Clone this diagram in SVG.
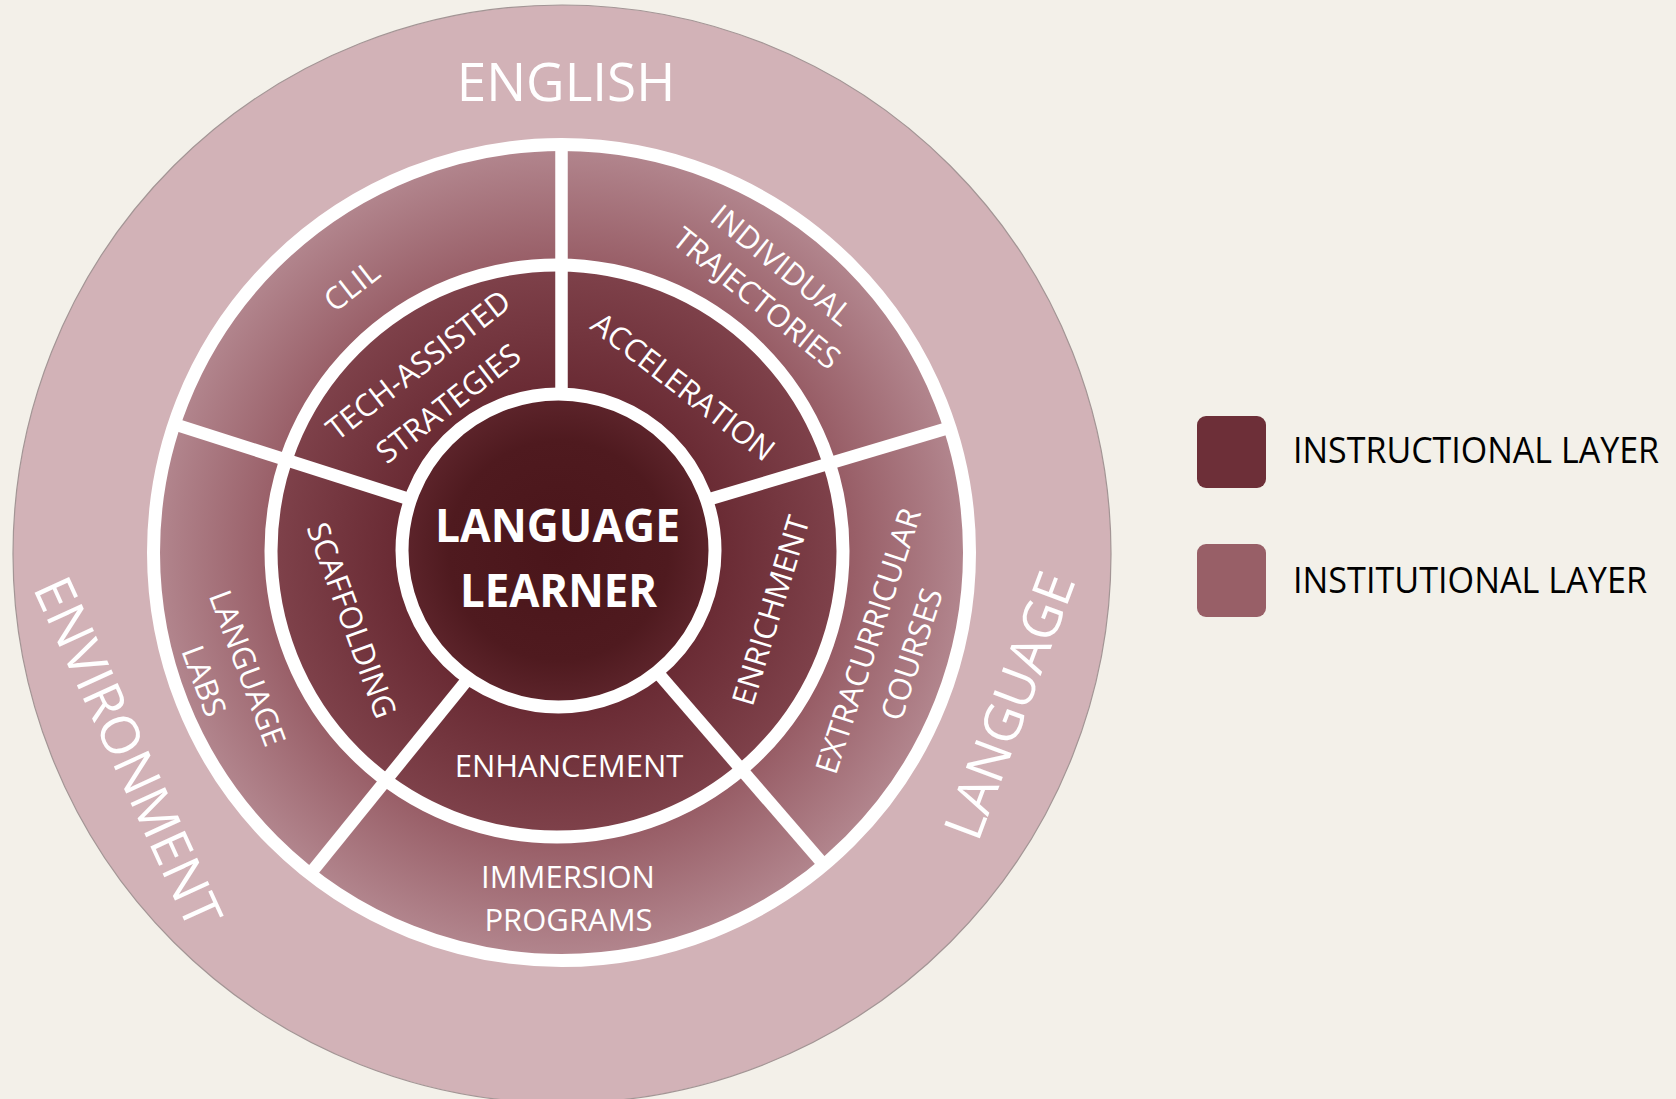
<svg xmlns="http://www.w3.org/2000/svg" width="1676" height="1099" viewBox="0 0 1676 1099">
  <defs>
    <radialGradient id="gInst" gradientUnits="userSpaceOnUse" cx="561.5" cy="552.5" r="408">
      <stop offset="0.70" stop-color="#975c65"/>
      <stop offset="1" stop-color="#b3878f"/>
    </radialGradient>
    <radialGradient id="gInstr" gradientUnits="userSpaceOnUse" cx="557" cy="551" r="286">
      <stop offset="0.55" stop-color="#692a33"/>
      <stop offset="1" stop-color="#7f424b"/>
    </radialGradient>
    <radialGradient id="gCore" gradientUnits="userSpaceOnUse" cx="558.5" cy="550.5" r="157">
      <stop offset="0" stop-color="#4a151a"/>
      <stop offset="0.7" stop-color="#4f1a1f"/>
      <stop offset="1" stop-color="#5e252c"/>
    </radialGradient>
    <style>
      .lbl { font-family: "Open Sans", "Liberation Sans", sans-serif; font-size: 31px; fill: #ffffff; text-anchor: middle; }
      .big { font-family: "Open Sans", "Liberation Sans", sans-serif; font-size: 53px; fill: #ffffff; text-anchor: middle; }
      .core { font-family: "Open Sans", "Liberation Sans", sans-serif; font-size: 47px; font-weight: bold; fill: #ffffff; text-anchor: middle; }
      .leg { font-family: "Open Sans", "Liberation Sans", sans-serif; font-size: 36px; fill: #000000; }
      .ring { stroke: #ffffff; stroke-width: 13; }
      .div { stroke: #ffffff; stroke-width: 12.5; fill: none; }
    </style>
  </defs>

  <rect id="background" x="0" y="0" width="1676" height="1099" fill="#f3f0e9"/>

  <g id="environment-layer">
    <circle cx="562" cy="554" r="549" fill="#d2b2b7" stroke="#a39595" stroke-width="1.2"/>
    <text class="big" x="566" y="101">ENGLISH</text>
    <text class="big" transform="translate(111,760) rotate(65.5)" x="0" y="0" textLength="378" lengthAdjust="spacingAndGlyphs">ENVIRONMENT</text>
    <text class="big" transform="translate(1027,712) rotate(-69.5)" x="0" y="0">LANGUAGE</text>
  </g>

  <g id="institutional-layer">
    <circle class="ring" cx="561.5" cy="552.5" r="408" fill="url(#gInst)"/>
  </g>

  <g id="instructional-layer">
    <circle class="ring" cx="557" cy="551" r="286" fill="url(#gInstr)" stroke-width="14"/>
  </g>

  <g id="connectors">
    <line class="div" x1="561.5" y1="146" x2="561.5" y2="420"/>
    <line class="div" x1="175" y1="424.4" x2="440" y2="509"/>
    <line class="div" x1="950" y1="427.6" x2="690" y2="505"/>
    <line class="div" x1="310" y1="874" x2="480" y2="664"/>
    <line class="div" x1="824" y1="865" x2="645" y2="658"/>
  </g>

  <g id="node-language-learner">
    <circle class="ring" cx="558.5" cy="550.5" r="156.5" fill="url(#gCore)"/>
    <text class="core" x="557.5" y="542" textLength="245" lengthAdjust="spacingAndGlyphs">LANGUAGE</text>
    <text class="core" x="558.5" y="607" textLength="197" lengthAdjust="spacingAndGlyphs">LEARNER</text>
  </g>

  <g id="node-clil">
    <text class="lbl" transform="translate(358.3,294.5) rotate(-38)" x="0" y="0">CLIL</text>
  </g>
  <g id="node-individual-trajectories">
    <text class="lbl" transform="translate(774.8,273.5) rotate(39)" x="0" y="0">INDIVIDUAL</text>
    <text class="lbl" transform="translate(749.8,306.8) rotate(39)" x="0" y="0">TRAJECTORIES</text>
  </g>
  <g id="node-extracurricular-courses">
    <text class="lbl" transform="translate(878.6,644.2) rotate(-72)" x="0" y="0">EXTRACURRICULAR</text>
    <text class="lbl" transform="translate(922.1,657.5) rotate(-72)" x="0" y="0">COURSES</text>
  </g>
  <g id="node-immersion-programs">
    <text class="lbl" x="568" y="888">IMMERSION</text>
    <text class="lbl" x="568.5" y="931">PROGRAMS</text>
  </g>
  <g id="node-language-labs">
    <text class="lbl" transform="translate(237.2,672.1) rotate(69.5)" x="0" y="0">LANGUAGE</text>
    <text class="lbl" transform="translate(193.7,684.9) rotate(69.5)" x="0" y="0">LABS</text>
  </g>

  <g id="node-tech-assisted-strategies">
    <text class="lbl" transform="translate(425,373.7) rotate(-37.7)" x="0" y="0">TECH-ASSISTED</text>
    <text class="lbl" transform="translate(455,412) rotate(-37.7)" x="0" y="0">STRATEGIES</text>
  </g>
  <g id="node-acceleration">
    <text class="lbl" transform="translate(676.6,395.4) rotate(37.5)" x="0" y="0">ACCELERATION</text>
  </g>
  <g id="node-enrichment">
    <text class="lbl" transform="translate(781.3,613.7) rotate(-73)" x="0" y="0">ENRICHMENT</text>
  </g>
  <g id="node-enhancement">
    <text class="lbl" x="569" y="777">ENHANCEMENT</text>
  </g>
  <g id="node-scaffolding">
    <text class="lbl" transform="translate(341.4,623.9) rotate(70)" x="0" y="0">SCAFFOLDING</text>
  </g>

  <g id="legend-instructional">
    <rect x="1197" y="416" width="69" height="72" rx="9" fill="#6d2f38"/>
    <text class="leg" x="1293" y="463" textLength="366" lengthAdjust="spacingAndGlyphs">INSTRUCTIONAL LAYER</text>
  </g>
  <g id="legend-institutional">
    <rect x="1197" y="544" width="69" height="73" rx="9" fill="#985f67"/>
    <text class="leg" x="1293" y="593" textLength="354" lengthAdjust="spacingAndGlyphs">INSTITUTIONAL LAYER</text>
  </g>
</svg>
